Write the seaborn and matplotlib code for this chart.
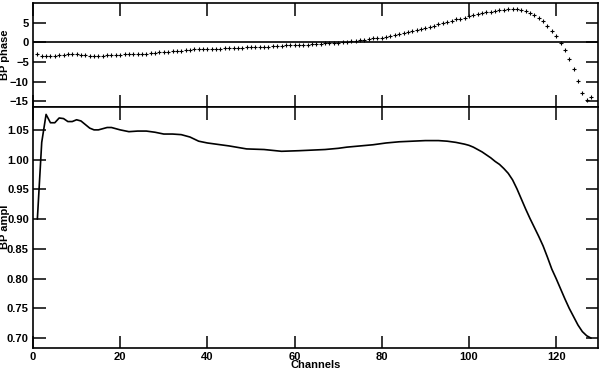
import numpy as np
import pandas as pd
import matplotlib
matplotlib.use("Agg")
import matplotlib.pyplot as plt
import seaborn as sns

# phase: one point per channel 1..128
phase_chan = list(range(1, 129))
phase_val = [
    -3.1, -3.4, -3.5, -3.5, -3.4, -3.3, -3.2, -3.1, -3.1, -3.1,
    -3.2, -3.3, -3.4, -3.4, -3.4, -3.4, -3.3, -3.3, -3.2, -3.2,
    -3.1, -3.1, -3.0, -3.0, -2.9, -2.9, -2.8, -2.7, -2.6, -2.5,
    -2.4, -2.3, -2.2, -2.1, -2.0, -1.9, -1.8, -1.8, -1.7, -1.7,
    -1.6, -1.6, -1.6, -1.5, -1.5, -1.5, -1.4, -1.4, -1.3, -1.3,
    -1.2, -1.2, -1.1, -1.1, -1.0, -0.9, -0.9, -0.8, -0.8, -0.7,
    -0.7, -0.6, -0.6, -0.5, -0.5, -0.4, -0.3, -0.3, -0.2, -0.1,
    0.0, 0.1, 0.2, 0.4, 0.5, 0.7, 0.8, 1.0, 1.1, 1.2,
    1.4, 1.6, 1.9, 2.1, 2.3, 2.5, 2.8, 3.0, 3.3, 3.6,
    3.9, 4.2, 4.6, 4.8, 5.1, 5.4, 5.8, 6.0, 6.3, 6.7,
    6.9, 7.1, 7.4, 7.6, 7.8, 8.0, 8.1, 8.3, 8.4, 8.5,
    8.4, 8.3, 8.0, 7.5, 6.9, 6.2, 5.3, 4.1, 2.9, 1.5,
    -0.2, -2.0, -4.2, -6.9, -9.9, -12.9, -14.7, -14.0,
]

# amplitude read at these channels
amp_chan = [1, 2, 3, 4, 5, 6, 7, 8, 9, 10, 11, 12, 13, 14, 15, 16, 17, 18, 19, 20,
            22, 24, 26, 28, 30, 32, 34, 36, 38, 40, 42, 45, 49, 53, 57, 61, 64, 67,
            70, 72, 75, 78, 81, 84, 87, 90, 93, 95, 97, 99,
            100, 101, 102, 103, 104, 105, 106, 107, 108, 109, 110, 111, 112, 113, 114,
            115, 116, 117, 118, 119, 120, 121, 122, 123, 124, 125, 126, 127, 128]
amp_val = [0.900, 1.029, 1.076, 1.062, 1.062, 1.070, 1.069, 1.064, 1.064, 1.067,
           1.065, 1.059, 1.053, 1.050, 1.050, 1.052, 1.054, 1.054, 1.052, 1.050,
           1.047, 1.048, 1.048, 1.046, 1.043, 1.043, 1.042, 1.038, 1.031, 1.028,
           1.026, 1.023, 1.018, 1.017, 1.014, 1.015, 1.016, 1.017, 1.019, 1.021,
           1.023, 1.025, 1.028, 1.030, 1.031, 1.032, 1.032, 1.031, 1.029, 1.026,
           1.024, 1.021, 1.017, 1.013, 1.008, 1.003, 0.997, 0.992, 0.985, 0.977,
           0.966, 0.951, 0.934, 0.917, 0.901, 0.886, 0.871, 0.855, 0.836, 0.816,
           0.800, 0.783, 0.766, 0.750, 0.736, 0.722, 0.711, 0.704, 0.700]

sns.set_theme(style="ticks")
plt.rcParams['font.family'] = ['Liberation Sans', 'DejaVu Sans']
plt.rcParams['font.weight'] = 'bold'
plt.rcParams['axes.labelweight'] = 'bold'
plt.rcParams['text.color'] = 'black'
plt.rcParams['axes.labelcolor'] = 'black'
plt.rcParams['xtick.color'] = 'black'
plt.rcParams['ytick.color'] = 'black'

fig = plt.figure(figsize=(6, 3.73), dpi=100)
ax1 = fig.add_axes([0.055, 0.714, 0.9417, 0.278])
ax2 = fig.add_axes([0.055, 0.068, 0.9417, 0.646])

ph = pd.DataFrame({"chan": phase_chan, "phase": phase_val})
am = pd.DataFrame({"chan": amp_chan, "ampl": amp_val})

ax1.axhline(0, color="black", lw=1.2)
sns.scatterplot(data=ph, x="chan", y="phase", marker="+", color="black",
                s=7, linewidth=0.8, ax=ax1, zorder=3)
sns.lineplot(data=am, x="chan", y="ampl", color="black", lw=1.2, ax=ax2)

for ax in (ax1, ax2):
    ax.set_xlim(0, 129.6)
    ax.set_xticks([0, 20, 40, 60, 80, 100, 120])
    ax.tick_params(direction="in", length=9, width=1.1, top=True, right=True,
                   labelsize=8, colors="black", pad=3)
    for sp in ax.spines.values():
        sp.set_linewidth(1.2)
        sp.set_color("black")

ax1.set_ylim(-16.4, 10)
ax1.set_yticks([-15, -10, -5, 0, 5])
ax1.tick_params(labelbottom=False)
ax1.set_xlabel("")
ax1.set_ylabel("BP phase", fontsize=8, fontweight="bold")
ax1.yaxis.set_label_coords(-0.04, 0.5)

ax2.set_ylim(0.684, 1.089)
ax2.set_yticks([0.70, 0.75, 0.80, 0.85, 0.90, 0.95, 1.00, 1.05])
ax2.set_yticklabels(["0.70", "0.75", "0.80", "0.85", "0.90", "0.95", "1.00", "1.05"])
ax2.set_xlabel("Channels", fontsize=8, fontweight="bold", labelpad=-1)
ax2.set_ylabel("BP ampl", fontsize=8, fontweight="bold")
ax2.yaxis.set_label_coords(-0.04, 0.5)

fig.savefig("out.png", dpi=100)
